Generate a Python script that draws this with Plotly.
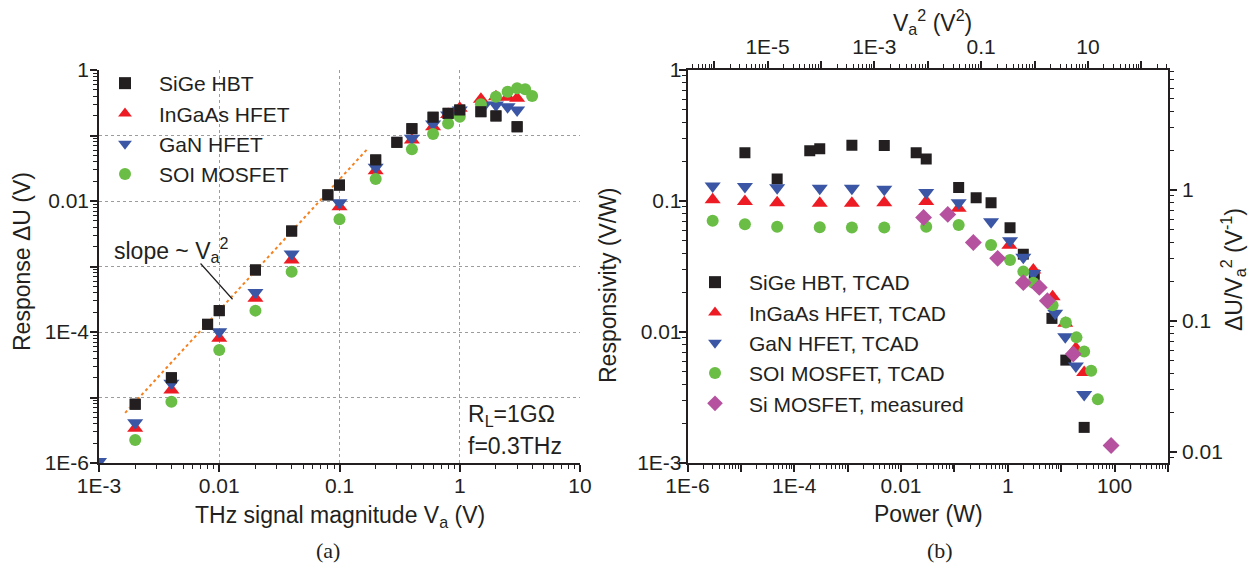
import math
import plotly.graph_objects as go

# ---------------- Panel (a) data ----------------
sige_a_x = [0.002, 0.004, 0.008, 0.01, 0.02, 0.04, 0.08, 0.1, 0.2, 0.3, 0.4, 0.6, 0.8, 1.0, 1.5, 2.0, 3.0]
sige_a_y = [7.9e-6, 2.0e-5, 1.31e-4, 2.12e-4, 8.85e-4, 3.48e-3, 0.0124, 0.0175, 0.0423, 0.0787, 0.127, 0.19, 0.218, 0.245, 0.231, 0.199, 0.136]

ingaas_a_x = [0.002, 0.004, 0.01, 0.02, 0.04, 0.1, 0.2, 0.4, 0.6, 0.8, 1.0, 1.5, 2.0, 2.5, 3.0]
ingaas_a_y = [3.38e-6, 1.30e-5, 8.0e-5, 3.27e-4, 1.26e-3, 8.2e-3, 0.029, 0.085, 0.136, 0.21, 0.26, 0.357, 0.39, 0.385, 0.37]

gan_a_x = [0.001, 0.002, 0.004, 0.01, 0.02, 0.04, 0.1, 0.2, 0.4, 0.6, 0.8, 1.0, 1.6, 2.0, 2.5, 3.0]
gan_a_y = [1.05e-6, 4.1e-6, 1.65e-5, 1.01e-4, 4.0e-4, 1.55e-3, 9.4e-3, 0.0327, 0.0906, 0.15, 0.206, 0.245, 0.29, 0.292, 0.275, 0.245]

soi_a_x = [0.002, 0.004, 0.01, 0.02, 0.04, 0.1, 0.2, 0.4, 0.6, 0.8, 1.0, 1.5, 2.0, 2.5, 3.0, 3.5, 4.0]
soi_a_y = [2.24e-6, 8.6e-6, 5.3e-5, 2.12e-4, 8.3e-4, 5.25e-3, 0.0217, 0.0615, 0.105, 0.153, 0.194, 0.30, 0.39, 0.467, 0.525, 0.51, 0.40]

slope_x = [0.00165, 0.173]
slope_k = 2.14
slope_tip = (0.0129, 3.16e-4)  # where the leader line touches the slope line

# ---------------- Panel (b) data ----------------
sige_b_x = [1.19e-5, 4.78e-5, 1.95e-4, 3.0e-4, 1.2e-3, 4.85e-3, 0.0192, 0.0296, 0.12, 0.255, 0.485, 1.1, 1.95, 3.13, 6.7, 12.2, 26.9]
sige_b_y = [0.234, 0.147, 0.242, 0.25, 0.267, 0.265, 0.234, 0.209, 0.127, 0.106, 0.097, 0.0625, 0.0393, 0.0272, 0.0127, 6.1e-3, 1.87e-3]

ingaas_b_x = [2.96e-6, 1.19e-5, 4.78e-5, 3.0e-4, 1.2e-3, 4.85e-3, 0.0296, 0.12, 1.07, 3.0, 6.9, 11.9, 18.8, 26.9]
ingaas_b_y = [0.102, 0.099, 0.097, 0.096, 0.096, 0.097, 0.099, 0.088, 0.046, 0.0297, 0.0186, 0.01165, 7.5e-3, 4.9e-3]

gan_b_x = [2.96e-6, 1.19e-5, 4.78e-5, 3.0e-4, 1.2e-3, 4.85e-3, 0.0296, 0.12, 0.485, 1.1, 1.95, 3.0, 7.7, 11.9, 18.8, 26.9]
gan_b_y = [0.130, 0.129, 0.126, 0.125, 0.125, 0.123, 0.116, 0.097, 0.0695, 0.0498, 0.0372, 0.028, 0.0139, 9.2e-3, 5.5e-3, 3.34e-3]

soi_b_x = [2.96e-6, 1.19e-5, 4.78e-5, 3.0e-4, 1.2e-3, 4.85e-3, 0.0296, 0.12, 0.485, 1.1, 1.95, 3.0, 6.9, 12.2, 19.3, 26.9, 36.4, 48.5]
soi_b_y = [0.0708, 0.0664, 0.0637, 0.063, 0.0627, 0.0627, 0.0637, 0.0656, 0.0461, 0.0355, 0.0289, 0.0238, 0.016, 0.0118, 9.1e-3, 7.1e-3, 5.07e-3, 3.06e-3]

simos_b_x = [0.0264, 0.075, 0.226, 0.644, 1.95, 3.88, 5.5, 16.8, 86.0]
simos_b_y = [0.0748, 0.079, 0.0482, 0.0365, 0.0238, 0.0219, 0.0173, 6.8e-3, 1.36e-3]

# ---------------- tick labels ----------------
a_xticks = [1e-3, 1e-2, 1e-1, 1, 10]
a_xtext = ["1E-3", "0.01", "0.1", "1", "10"]
a_yticks = [1e-6, 1e-5, 1e-4, 1e-3, 1e-2, 1e-1, 1]
a_ytext = ["1E-6", "", "1E-4", "", "0.01", "", "1"]
b_xticks = [1e-6, 1e-5, 1e-4, 1e-3, 1e-2, 1e-1, 1, 10, 100, 1000]
b_xtext = ["1E-6", "", "1E-4", "", "0.01", "", "1", "", "100", ""]
b_yticks = [1e-3, 1e-2, 1e-1, 1]
b_ytext = ["1E-3", "0.01", "0.1", "1"]
top_ticks = [1e-6, 1e-5, 1e-4, 1e-3, 1e-2, 1e-1, 1, 10, 100]
top_text = ["", "1E-5", "", "1E-3", "", "0.1", "", "10", ""]
r_ticks = [0.01, 0.1, 1]
r_text = ["0.01", "0.1", "1"]

# ---------------- styles ----------------
C_BLACK = "#231f20"
C_RED = "#ed1c24"
C_BLUE = "#3a56a5"
C_GREEN = "#6abd45"
C_PURPLE = "#b5519f"
C_ORANGE = "#f58220"
FONT = "Liberation Sans, Arial, sans-serif"
SERIF = "Liberation Serif, Times New Roman, serif"
W, H = 1249, 573
TXT = 23
TICK = 21

def px_x(p):
    return p / W

def px_y(p):
    return 1 - p / H

fig = go.Figure()

series_a = [
    ("SiGe HBT", sige_a_x, sige_a_y, "square", 11, C_BLACK),
    ("InGaAs HFET", ingaas_a_x, ingaas_a_y, "triangle-up", 14, C_RED),
    ("GaN HFET", gan_a_x, gan_a_y, "triangle-down", 14, C_BLUE),
    ("SOI MOSFET", soi_a_x, soi_a_y, "circle", 12, C_GREEN),
]
for name, xs, ys, sym, sz, col in series_a:
    fig.add_trace(go.Scatter(x=xs, y=ys, mode="markers", name=name,
                             marker=dict(symbol=sym, size=sz, color=col, line=dict(width=0)),
                             xaxis="x", yaxis="y", legend="legend", cliponaxis=True))

fig.add_trace(go.Scatter(x=slope_x, y=[slope_k * v * v for v in slope_x], mode="lines",
                         line=dict(color=C_ORANGE, dash="dot", width=2), showlegend=False,
                         xaxis="x", yaxis="y", hoverinfo="skip"))
# black squares are drawn above the slope line in the reference
fig.add_trace(go.Scatter(x=sige_a_x, y=sige_a_y, mode="markers", showlegend=False,
                         marker=dict(symbol="square", size=11, color=C_BLACK, line=dict(width=0)),
                         xaxis="x", yaxis="y", hoverinfo="skip"))

series_b = [
    ("SiGe HBT, TCAD", sige_b_x, sige_b_y, "square", 11, C_BLACK),
    ("InGaAs HFET, TCAD", ingaas_b_x, ingaas_b_y, "triangle-up", 14, C_RED),
    ("GaN HFET, TCAD", gan_b_x, gan_b_y, "triangle-down", 14, C_BLUE),
    ("SOI MOSFET, TCAD", soi_b_x, soi_b_y, "circle", 12, C_GREEN),
    ("Si MOSFET, measured", simos_b_x, simos_b_y, "diamond", 13, C_PURPLE),
]
for name, xs, ys, sym, sz, col in series_b:
    fig.add_trace(go.Scatter(x=xs, y=ys, mode="markers", name=name,
                             marker=dict(symbol=sym, size=sz, color=col, line=dict(width=0)),
                             xaxis="x2", yaxis="y2", legend="legend2"))

# empty traces so the secondary (top / right) axes of panel (b) are created
fig.add_trace(go.Scatter(x=[], y=[], xaxis="x3", yaxis="y2", showlegend=False, hoverinfo="skip"))
fig.add_trace(go.Scatter(x=[], y=[], xaxis="x2", yaxis="y3", showlegend=False, hoverinfo="skip"))

tickfont = dict(family=FONT, size=TICK, color=C_BLACK)
minor_common = dict(ticks="outside", ticklen=4, tickcolor=C_BLACK, tickwidth=1, dtick="D1", showgrid=False)
axis_common = dict(type="log", showline=True, linecolor=C_BLACK, linewidth=1.5, ticks="outside",
                   ticklen=7, tickcolor=C_BLACK, tickwidth=1.5, tickfont=tickfont, tickmode="array",
                   zeroline=False, minor=minor_common, automargin=False)

dom_a_x = [px_x(99), px_x(580)]
dom_b_x = [px_x(687.5), px_x(1168)]
dom_y = [px_y(463), px_y(70)]

legend_common = dict(xanchor="left", yanchor="top", bgcolor="rgba(0,0,0,0)", borderwidth=0,
                     font=dict(family=FONT, size=21, color=C_BLACK), itemsizing="constant",
                     itemwidth=58)

fig.update_layout(
    template="none",
    width=W, height=H, margin=dict(l=0, r=0, t=0, b=0, pad=0), autosize=False,
    paper_bgcolor="white", plot_bgcolor="white",
    font=dict(family=FONT, color=C_BLACK),
    xaxis=dict(axis_common, domain=dom_a_x, range=[-3, 1], tickvals=a_xticks, ticktext=a_xtext,
               showgrid=True, gridcolor="#9c9c9c", griddash="dot", gridwidth=1, anchor="y",
               ticklabelstandoff=-4),
    yaxis=dict(axis_common, domain=dom_y, range=[-6, 0], tickvals=a_yticks, ticktext=a_ytext,
               showgrid=True, gridcolor="#9c9c9c", griddash="dot", gridwidth=1, anchor="x",
               ticklabelstandoff=-3),
    xaxis2=dict(axis_common, domain=dom_b_x, range=[-6, 3], tickvals=b_xticks, ticktext=b_xtext,
                showgrid=False, anchor="y2", ticklabelstandoff=-4),
    yaxis2=dict(axis_common, domain=dom_y, range=[-3, 0], tickvals=b_yticks, ticktext=b_ytext,
                showgrid=False, anchor="x2", ticklabelstandoff=-7),
    xaxis3=dict(axis_common, overlaying="x2", side="top", anchor="y2", range=[-6.5, 2.5],
                tickvals=top_ticks, ticktext=top_text, showgrid=False, ticklabelstandoff=-1),
    yaxis3=dict(axis_common, overlaying="y2", side="right", anchor="x2", range=[-2.084, 0.916],
                tickvals=r_ticks, ticktext=r_text, showgrid=False, ticklabelstandoff=1),
    legend=dict(legend_common, x=px_x(91), y=px_y(63)),
    legend2=dict(legend_common, x=px_x(681), y=px_y(262)),
)

def ann(text, x, y, size=TXT, angle=0, xanchor="center", fam=FONT):
    fig.add_annotation(text=text, x=px_x(x), y=px_y(y), xref="paper", yref="paper",
                       showarrow=False, textangle=angle, xanchor=xanchor, yanchor="middle",
                       font=dict(family=fam, size=size, color=C_BLACK))

# axis titles
ann("Response ΔU (V)", 22, 262, angle=-90)
ann("THz signal magnitude V<sub>a</sub> (V)", 340, 516)
ann("Responsivity (V/W)", 608, 285, angle=-90)
ann("Power (W)", 928, 514)
ann("ΔU/V<sub>a</sub><sup>2</sup> (V<sup>-1</sup>)", 1233, 270, angle=-90)
ann("V<sub>a</sub><sup>2</sup> (V<sup>2</sup>)", 932, 22)
# in-plot notes
ann("R<sub>L</sub>=1GΩ", 466, 415, xanchor="left")
ann("f=0.3THz", 466, 446, xanchor="left")
ann("slope ~ V<sub>a</sub><sup>2</sup>", 112, 250, xanchor="left")
ann("(a)", 328, 550, size=22, fam=SERIF)
ann("(b)", 940, 550, size=22, fam=SERIF)

# leader line from the slope label to the slope line (log axes take log10 positions)
fig.add_annotation(text=" ", x=math.log10(slope_tip[0]), y=math.log10(slope_tip[1]),
                   xref="x", yref="y", ax=-34, ay=-38, showarrow=True, arrowhead=0,
                   arrowwidth=1.2, arrowcolor=C_BLACK, standoff=0, font=dict(size=2))

fig.write_html("out.html")
